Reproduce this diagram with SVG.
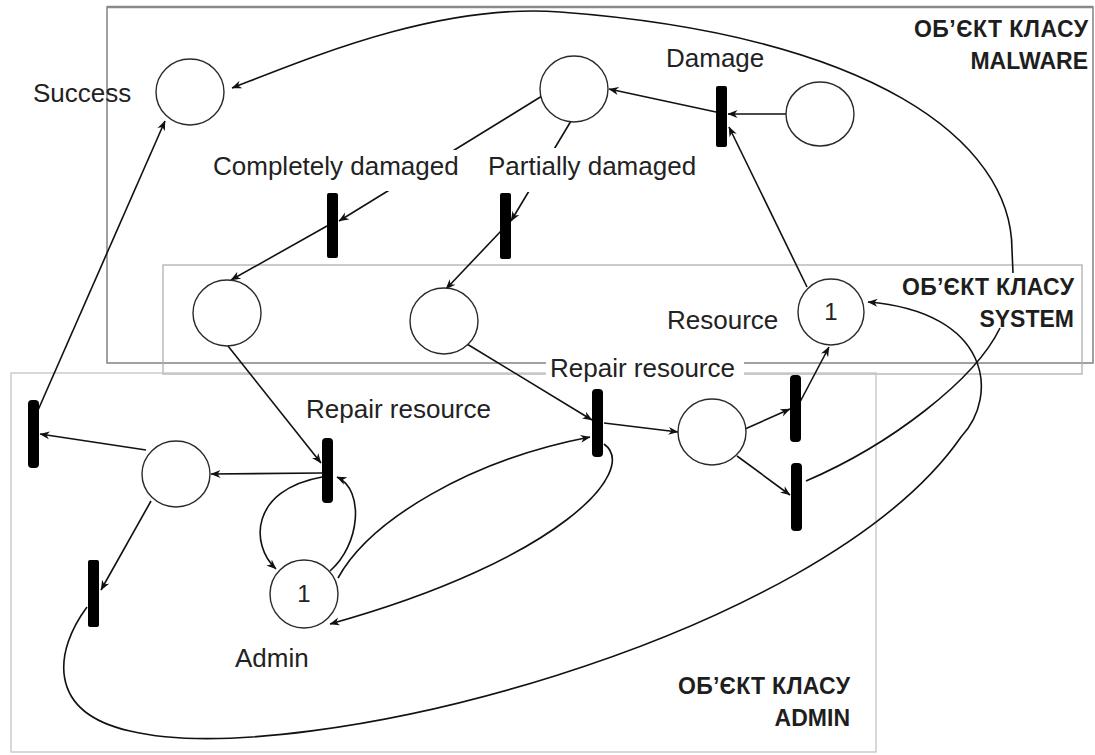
<svg xmlns="http://www.w3.org/2000/svg" width="1095" height="755" viewBox="0 0 1095 755">
  <style>
    .frame { fill: none; }
    .place { fill: #ffffff; stroke: #2a2a2a; stroke-width: 1.4; }
    .bar { fill: #000000; }
    .edge { fill: none; stroke: #111111; stroke-width: 1.6; marker-end: url(#arr); }
    .lbl { font-family: "Liberation Sans", Arial, sans-serif; font-size: 26px; fill: #222222; }
    .tok { font-family: "Liberation Sans", Arial, sans-serif; font-size: 24px; fill: #222222; text-anchor: middle; }
    .cls { font-family: "Liberation Sans", Arial, sans-serif; font-size: 23px; font-weight: bold; fill: #1e1e1e; text-anchor: end; }
    .bg { fill: #ffffff; }
  </style>
  <defs>
    <marker id="arr" viewBox="0 0 10 10" refX="9.5" refY="5" markerWidth="10" markerHeight="10" markerUnits="userSpaceOnUse" orient="auto">
      <path d="M0,1 L10,5 L0,9 L3,5 z" fill="#111111"/>
    </marker>
  </defs>

  <rect width="1095" height="755" fill="#ffffff"/>

  <!-- class containers -->
  <g id="frames">
    <rect class="frame" x="107" y="7" width="986" height="356" stroke="#8a8a8a" stroke-width="1.6"/>
    <line x1="107" y1="7" x2="1093" y2="7" stroke="#8a8a8a" stroke-width="2.4"/>
    <rect class="frame" x="163" y="265" width="919" height="109" stroke="#b0b0b0" stroke-width="1.3"/>
    <rect class="frame" x="11" y="373" width="865" height="379" stroke="#c4c4c4" stroke-width="1.3"/>
  </g>

  <!-- arcs of the net -->
  <g id="connectors">
    <!-- Damage -->
    <path class="edge" d="M716,112 L609,89"/>
    <path class="edge" d="M786,114 L728,114"/>
    <path class="edge" d="M807,287 L729,127"/>
    <!-- damage outcomes -->
    <path class="edge" d="M542,96 L339,221"/>
    <path class="edge" d="M571,121 L511,221"/>
    <path class="edge" d="M327,226 L231,280"/>
    <path class="edge" d="M501,231 L446,289"/>
    <!-- repair -->
    <path class="edge" d="M228,346 L321,463"/>
    <path class="edge" d="M467,344 L592,420"/>
    <path class="edge" d="M322,473 L211,474"/>
    <path class="edge" d="M146,450 L40,434"/>
    <path class="edge" d="M35,417 L165,121"/>
    <path class="edge" d="M151,501 L101,590"/>
    <path class="edge" d="M322,477 C250,490 250,545 276,569"/>
    <path class="edge" d="M330,571 C360,545 365,490 337,477"/>
    <path class="edge" d="M338,578 C370,520 470,460 590,437"/>
    <path class="edge" d="M604,444 C640,470 560,560 330,624"/>
    <path class="edge" d="M604,423 L678,432"/>
    <path class="edge" d="M745,429 L790,409"/>
    <path class="edge" d="M800,402 L829,347"/>
    <path class="edge" d="M737,456 L790,495"/>
    <!-- long returns -->
    <path class="edge" d="M87,607 C55,650 45,712 130,731 C300,772 820,640 961,437 C1000,395 990,312 868,302"/>
    <path class="edge" d="M806,481 C890,445 975,380 1000,328 M1013,273 L1012,250 C1012,140 870,35 560,12 C440,3 312,57 232,88"/>
  </g>

  <!-- places -->
  <g id="p-success"><ellipse class="place" cx="190" cy="92" rx="34" ry="33"/>
    <text class="lbl" x="33" y="102">Success</text></g>
  <g id="p-attacked"><ellipse class="place" cx="574" cy="89" rx="34" ry="33"/></g>
  <g id="p-malware"><ellipse class="place" cx="820" cy="114" rx="34" ry="32"/></g>
  <g id="p-complete"><ellipse class="place" cx="227" cy="313" rx="34" ry="33"/></g>
  <g id="p-partial"><ellipse class="place" cx="444" cy="321" rx="34" ry="33"/></g>
  <g id="p-resource"><ellipse class="place" cx="831" cy="312" rx="33" ry="33"/>
    <text class="tok" x="831" y="320">1</text>
    <text class="lbl" x="667" y="329">Resource</text></g>
  <g id="p-repaired"><ellipse class="place" cx="712" cy="432" rx="34" ry="33"/></g>
  <g id="p-admin-busy"><ellipse class="place" cx="176" cy="474" rx="34" ry="33"/></g>
  <g id="p-admin"><ellipse class="place" cx="304" cy="594" rx="34" ry="34"/>
    <text class="tok" x="304" y="602">1</text>
    <text class="lbl" x="235" y="667">Admin</text></g>

  <!-- transitions -->
  <g id="t-damage"><rect class="bar" x="716" y="86" width="11" height="61" rx="2"/>
    <text class="lbl" x="666" y="67">Damage</text></g>
  <g id="t-complete"><rect class="bar" x="327" y="193" width="11" height="65" rx="2"/>
    <rect class="bg" x="210" y="150" width="253" height="41"/>
    <text class="lbl" x="213" y="175">Completely damaged</text></g>
  <g id="t-partial"><rect class="bar" x="500" y="193" width="11" height="66" rx="2"/>
    <rect class="bg" x="485" y="148" width="213" height="44"/>
    <text class="lbl" x="488" y="175">Partially damaged</text></g>
  <g id="t-repair-admin"><rect class="bar" x="322" y="438" width="11" height="65" rx="4"/>
    <text class="lbl" x="306" y="418">Repair resource</text></g>
  <g id="t-repair-system"><rect class="bar" x="592" y="389" width="11" height="68" rx="4"/>
    <rect class="bg" x="546" y="351" width="198" height="33"/>
    <text class="lbl" x="550" y="377">Repair resource</text></g>
  <g id="t-restore"><rect class="bar" x="790" y="375" width="11" height="67" rx="4"/></g>
  <g id="t-fail"><rect class="bar" x="791" y="463" width="11" height="68" rx="4"/></g>
  <g id="t-admin-success"><rect class="bar" x="28" y="400" width="11" height="68" rx="4"/></g>
  <g id="t-admin-return"><rect class="bar" x="88" y="560" width="11" height="67" rx="2"/></g>

  <!-- class captions -->
  <g id="cap-malware">
    <text class="cls" x="1088" y="37" textLength="174" lengthAdjust="spacing">ОБ’ЄКТ КЛАСУ</text>
    <text class="cls" x="1088" y="69">MALWARE</text>
  </g>
  <g id="cap-system">
    <text class="cls" x="1074" y="295" textLength="172" lengthAdjust="spacing">ОБ’ЄКТ КЛАСУ</text>
    <text class="cls" x="1074" y="327">SYSTEM</text>
  </g>
  <g id="cap-admin">
    <text class="cls" x="850" y="694" textLength="172" lengthAdjust="spacing">ОБ’ЄКТ КЛАСУ</text>
    <text class="cls" x="850" y="726">ADMIN</text>
  </g>
</svg>
